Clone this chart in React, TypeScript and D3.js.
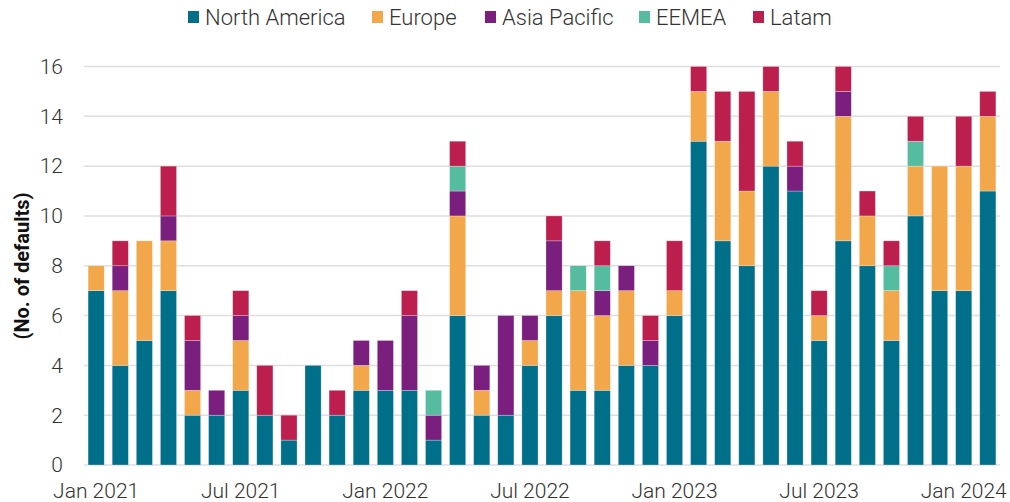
import React from "react";
import * as d3 from "d3";

const months = [
  "2021-01","2021-02","2021-03","2021-04","2021-05","2021-06","2021-07","2021-08","2021-09","2021-10","2021-11","2021-12",
  "2022-01","2022-02","2022-03","2022-04","2022-05","2022-06","2022-07","2022-08","2022-09","2022-10","2022-11","2022-12",
  "2023-01","2023-02","2023-03","2023-04","2023-05","2023-06","2023-07","2023-08","2023-09","2023-10","2023-11","2023-12",
  "2024-01","2024-02",
];
const northAmerica = [7,4,5,7,2,2,3,2,1,4,2,3, 3,3,1,6,2,2,4,6,3,3,4,4, 6,13,9,8,12,11,5,9,8,5,10,7, 7,11];
const europe =       [1,3,4,2,1,0,2,0,0,0,0,1, 0,0,0,4,1,0,1,1,4,3,3,0, 1,2,4,3,3,0,1,5,2,2,2,5, 5,3];
const asiaPacific =  [0,1,0,1,2,1,1,0,0,0,0,1, 2,3,1,1,1,4,1,2,0,1,1,1, 0,0,0,0,0,1,0,1,0,0,0,0, 0,0];
const eemea =        [0,0,0,0,0,0,0,0,0,0,0,0, 0,0,1,1,0,0,0,0,1,1,0,0, 0,0,0,0,0,0,0,0,0,1,1,0, 0,0];
const latam =        [0,1,0,2,1,0,1,2,1,0,1,0, 0,1,0,1,0,0,0,1,0,1,0,1, 2,1,2,4,1,1,1,1,1,1,1,0, 2,1];

const seriesNames = ["North America","Europe","Asia Pacific","EEMEA","Latam"];
const seriesColors = ["#006F8A","#F2A74B","#7A1F7E","#55BC9F","#BC1F4E"];
const yTicks = [0,2,4,6,8,10,12,14,16];
const xTickMonths = ["2021-01","2021-07","2022-01","2022-07","2023-01","2023-07","2024-01"];

const W = 1010, H = 502;
const FONT = "Roboto, 'Noto Sans', sans-serif";

function label(m: string) {
  const [y, mo] = m.split("-");
  return (mo === "01" ? "Jan " : "Jul ") + y;
}

export default function App() {
  const values = [northAmerica, europe, asiaPacific, eemea, latam];
  const rows = months.map((m, i) => {
    const r: any = { month: m };
    seriesNames.forEach((s, k) => (r[s] = values[k][i]));
    return r;
  });
  const stacked = d3.stack<any>().keys(seriesNames)(rows);

  const x = d3.scaleBand<string>().domain(months).range([84, 1000]).paddingInner(0.33).paddingOuter(0.17);
  const y = d3.scaleLinear().domain([0, 16]).range([465, 66.5]);

  const legendX = [188, 372, 485, 639, 753];

  return (
    <svg width={W} height={H} style={{ position: "absolute", left: 0, top: 0, background: "#fff" }} fontFamily={FONT}>
      <rect width={W} height={H} fill="#fff" />
      {yTicks.map((t) => (
        <g key={t}>
          <line x1={84} x2={1000} y1={y(t)} y2={y(t)} stroke="#DEDEDE" strokeWidth={1.5} />
          <text x={63} y={y(t)} dy="0.35em" textAnchor="end" fontSize={21} fill="#333" fontWeight={300}>{t}</text>
        </g>
      ))}
      {stacked.map((layer, k) => (
        <g key={layer.key} fill={seriesColors[k]}>
          {layer.map((d, i) =>
            d[1] - d[0] > 0 ? (
              <rect
                key={i}
                x={x(months[i])}
                width={x.bandwidth()}
                y={y(d[1])}
                height={y(d[0]) - y(d[1])}
                stroke="#fff"
                strokeOpacity={0.45}
                strokeWidth={0.6}
              />
            ) : null
          )}
        </g>
      ))}
      {xTickMonths.map((m) => (
        <text key={m} x={(x(m) as number) + x.bandwidth() / 2} y={491} dy="0.35em" textAnchor="middle" fontSize={21} fill="#333" fontWeight={300}>
          {label(m)}
        </text>
      ))}
      <text transform="translate(22,266) rotate(-90)" textAnchor="middle" dy="0.35em" fontSize={20} fontWeight={700} fill="#111">
        (No. of defaults)
      </text>
      {seriesNames.map((s, k) => (
        <g key={s}>
          <rect x={legendX[k]} y={11} width={11} height={12} fill={seriesColors[k]} />
          <text x={legendX[k] + 17} y={17} dy="0.35em" fontSize={22} fill="#333" fontWeight={300}>{s}</text>
        </g>
      ))}
    </svg>
  );
}
